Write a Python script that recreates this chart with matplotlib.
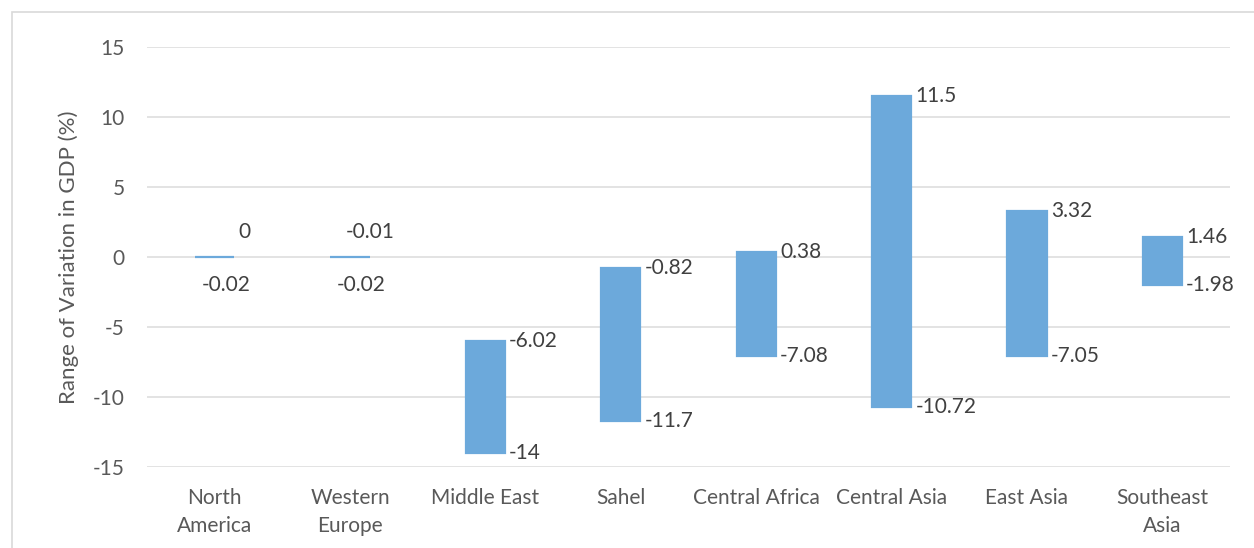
import matplotlib
matplotlib.use("Agg")
import matplotlib.pyplot as plt
from matplotlib.patches import Rectangle

plt.rcParams['font.family'] = ['Lato', 'DejaVu Sans']

categories = ["North\nAmerica", "Western\nEurope", "Middle East", "Sahel",
              "Central Africa", "Central Asia", "East Asia", "Southeast\nAsia"]
low_values = [-0.02, -0.02, -14, -11.7, -7.08, -10.72, -7.05, -1.98]
high_values = [0, -0.01, -6.02, -0.82, 0.38, 11.5, 3.32, 1.46]
low_labels = ["-0.02", "-0.02", "-14", "-11.7", "-7.08", "-10.72", "-7.05", "-1.98"]
high_labels = ["0", "-0.01", "-6.02", "-0.82", "0.38", "11.5", "3.32", "1.46"]
y_ticks = [-15, -10, -5, 0, 5, 10, 15]

W, H = 1254, 548
fig = plt.figure(figsize=(W / 100, H / 100), dpi=100)
ax = fig.add_axes([147 / W, (H - 467) / H, (1230 - 147) / W, 420 / H])

bar_color = '#6CA9DB'
grid_color = '#DEDEDE'
text_color = '#595959'
label_color = '#404040'
fs = 15

x = list(range(len(categories)))
heights = [h - l for h, l in zip(high_values, low_values)]
ax.bar(x, heights, bottom=low_values, width=0.29, color=bar_color,
       edgecolor=bar_color, linewidth=1.6, zorder=3)

ax.set_xlim(-0.5, len(categories) - 0.5)
ax.set_ylim(-15, 15)
ax.set_yticks(y_ticks)
ax.set_yticklabels([str(t) for t in y_ticks])
ax.yaxis.grid(True, color=grid_color, linewidth=1.2, zorder=0)
ax.set_axisbelow(True)
for s in ax.spines.values():
    s.set_visible(False)
ax.tick_params(axis='y', length=0, pad=16, labelsize=fs, labelcolor=text_color)
ax.set_xticks(x)
ax.set_xticklabels(categories, linespacing=1.5)
ax.tick_params(axis='x', length=0, pad=15, labelsize=fs, labelcolor=text_color)
ax.set_ylabel("Range of Variation in GDP (%)", fontsize=16, color=text_color, labelpad=10)

half_w = 0.29 / 2
near_zero_top_dx = [3, -17]
for i, (lo, hi, ll, hl) in enumerate(zip(low_values, high_values, low_labels, high_labels)):
    if hi - lo < 0.5:
        ax.annotate(hl, (i + half_w, hi), xytext=(near_zero_top_dx[i], 18),
                    textcoords='offset points', ha='left', va='center',
                    fontsize=fs, color=label_color)
        ax.annotate(ll, (i, lo), xytext=(8, -20), textcoords='offset points',
                    ha='center', va='center', fontsize=fs, color=label_color)
    else:
        ax.annotate(hl, (i + half_w, hi), xytext=(3, 0), textcoords='offset points',
                    ha='left', va='center', fontsize=fs, color=label_color)
        ax.annotate(ll, (i + half_w, lo), xytext=(3, 0), textcoords='offset points',
                    ha='left', va='center', fontsize=fs, color=label_color)

# chart frame
fig.patches.append(Rectangle((12 / W, -0.1), 1.2, (H - 12) / H + 0.1,
                             transform=fig.transFigure, fill=False,
                             edgecolor='#D9D9D9', linewidth=1.2))

fig.savefig("out.png", dpi=100, facecolor='white')
